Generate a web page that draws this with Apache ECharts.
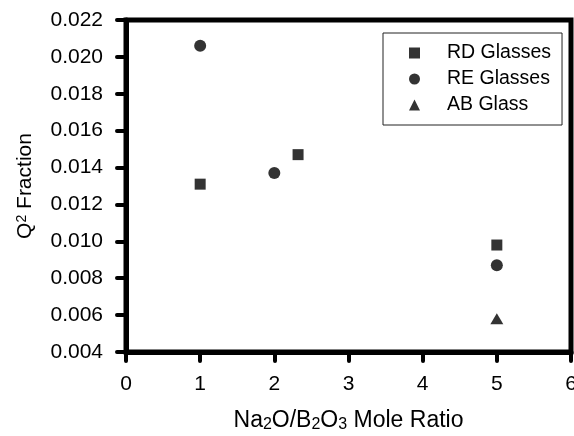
<!DOCTYPE html>
<html>
<head>
<meta charset="utf-8">
<script src="https://cdn.jsdelivr.net/npm/echarts@6/dist/echarts.min.js"></script>
<style>
  html, body { margin: 0; padding: 0; background: #fff; }
  #chart { width: 574px; height: 436px; }
</style>
</head>
<body>
<div id="chart"></div>
<script>
// Q2 fraction versus Na2O/B2O3 mole ratio for three glass groups
const seriesNames = ['RD Glasses', 'RE Glasses', 'AB Glass'];
const seriesSymbols = ['rect', 'circle', 'triangle'];

// [mole ratio, Q2 fraction]
const rdGlasses = [[1, 0.0131], [2.32, 0.0147], [5, 0.0098]];
const reGlasses = [[1, 0.0206], [2, 0.0137], [5, 0.0087]];
const abGlass = [[5, 0.0058]];

const xTicks = [0, 1, 2, 3, 4, 5, 6];
const yTicks = [0.004, 0.006, 0.008, 0.010, 0.012, 0.014, 0.016, 0.018, 0.020, 0.022];

const FONT = '"Liberation Sans", Arial, sans-serif';
const seriesData = [rdGlasses, reGlasses, abGlass];
const symbolSizes = [11, 12, [13, 11]];

const chart = echarts.init(document.getElementById('chart'), null, { renderer: 'canvas' });

chart.setOption({
  animation: false,
  backgroundColor: '#fff',
  textStyle: { fontFamily: FONT, color: '#000' },
  grid: {
    left: 126, right: 3, top: 20, bottom: 84,
    outerBoundsMode: 'none',
    containLabel: false,
    show: true, borderColor: '#000', borderWidth: 5, backgroundColor: 'transparent'
  },
  legend: {
    orient: 'vertical',
    left: 383, top: 33,
    padding: [10, 11, 10, 26],
    itemWidth: 11, itemHeight: 11,
    itemGap: 6,
    borderColor: '#222', borderWidth: 1,
    data: seriesNames,
    formatter: name => '{t|' + name + '}',
    textStyle: {
      fontFamily: FONT, fontSize: 19.5, color: '#000',
      rich: { t: { fontFamily: FONT, fontSize: 19.5, color: '#000', lineHeight: 20, padding: [0, 0, 0, 22] } }
    }
  },
  xAxis: {
    type: 'value',
    min: xTicks[0], max: xTicks[xTicks.length - 1], interval: 1,
    name: '{m|Na}{s|2}{m|O/B}{s|2}{m|O}{s|3}{m| Mole Ratio}',
    nameLocation: 'middle',
    nameGap: 56,
    nameTextStyle: {
      rich: {
        m: { fontFamily: FONT, fontSize: 23, color: '#000' },
        s: { fontFamily: FONT, fontSize: 16, color: '#000', padding: [9, 0, 0, 0] }
      }
    },
    splitLine: { show: false },
    axisLine: { show: true, onZero: false, lineStyle: { color: '#000', width: 5 } },
    axisTick: { show: true, inside: false, length: 9, lineStyle: { color: '#000', width: 4, cap: 'round' } },
    axisLabel: { fontFamily: FONT, fontSize: 21, color: '#000', margin: 22, showMaxLabel: true }
  },
  yAxis: {
    type: 'value',
    min: yTicks[0], max: yTicks[yTicks.length - 1], interval: 0.002,
    name: '{q|Q}{p|2}{q| Fraction}',
    nameLocation: 'middle',
    nameRotate: 90,
    nameGap: 90,
    nameTextStyle: {
      rich: {
        q: { fontFamily: FONT, fontSize: 21, color: '#000' },
        p: { fontFamily: FONT, fontSize: 14, color: '#000', padding: [0, 0, 7, 0] }
      }
    },
    splitLine: { show: false },
    axisLine: { show: true, onZero: false, lineStyle: { color: '#000', width: 5 } },
    axisTick: { show: true, inside: false, length: 9, lineStyle: { color: '#000', width: 4, cap: 'round' } },
    axisLabel: {
      fontFamily: FONT, fontSize: 21, color: '#000', margin: 23,
      formatter: v => v.toFixed(3)
    }
  },
  series: seriesNames.map((name, i) => ({
    name: name,
    type: 'scatter',
    symbol: seriesSymbols[i],
    symbolSize: symbolSizes[i],
    itemStyle: { color: '#000' },
    data: seriesData[i]
  }))
});
</script>
</body>
</html>
